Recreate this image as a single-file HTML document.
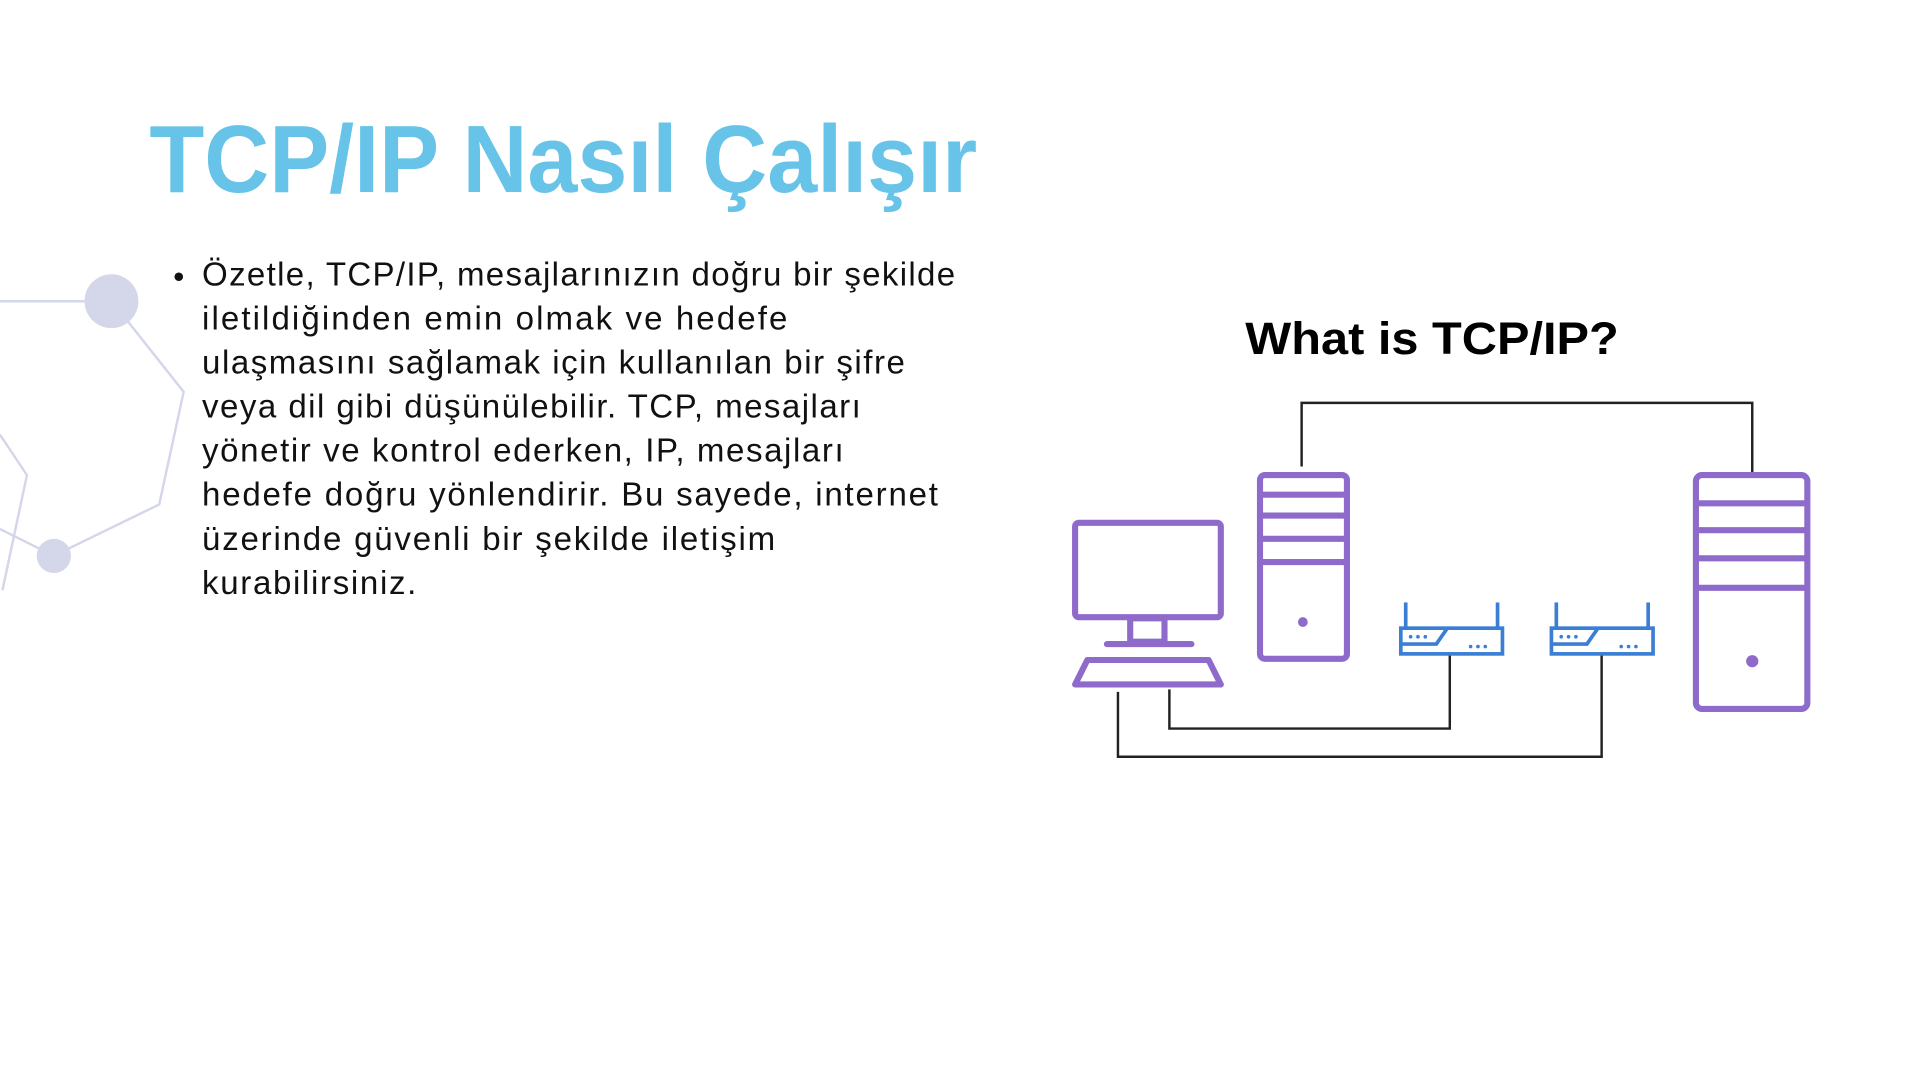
<!DOCTYPE html>
<html><head><meta charset="utf-8"><style>
html,body{margin:0;padding:0;background:#fff;width:1920px;height:1080px;overflow:hidden}
svg{display:block}
</style></head><body>
<svg width="1920" height="1080" viewBox="0 0 1568 882" xmlns="http://www.w3.org/2000/svg">
<g stroke="#d4d6ea" stroke-width="2" fill="none">
<polyline points="0,246 70,246"/>
<polyline points="104,262 150,320 130,412 56,448"/>
<polyline points="0,355 22,388 2,482"/>
<polyline points="0,432 32,448"/>
</g>
<circle cx="91" cy="246" r="22" fill="#d4d6ea"/>
<circle cx="44" cy="454" r="14" fill="#d4d6ea"/>
<text x="122" y="157" font-family="Liberation Sans, sans-serif" font-weight="bold" font-size="78" fill="#67c3e8" textLength="676" lengthAdjust="spacingAndGlyphs">TCP/IP Nasıl Çalışır</text>
<circle cx="146" cy="226" r="3.5" fill="#111"/>
<g font-family="Liberation Sans, sans-serif" font-size="27" fill="#111" lengthAdjust="spacingAndGlyphs">
<text x="165" y="233" textLength="615">Özetle, TCP/IP, mesajlarınızın doğru bir şekilde</text>
<text x="165" y="269" textLength="478">iletildiğinden emin olmak ve hedefe</text>
<text x="165" y="305" textLength="574">ulaşmasını sağlamak için kullanılan bir şifre</text>
<text x="165" y="341" textLength="538">veya dil gibi düşünülebilir. TCP, mesajları</text>
<text x="165" y="377" textLength="524">yönetir ve kontrol ederken, IP, mesajları</text>
<text x="165" y="413" textLength="601">hedefe doğru yönlendirir. Bu sayede, internet</text>
<text x="165" y="449" textLength="468">üzerinde güvenli bir şekilde iletişim</text>
<text x="165" y="485" textLength="175">kurabilirsiniz.</text>
</g>
<text x="1017" y="289" font-family="Liberation Sans, sans-serif" font-weight="bold" font-size="37" fill="#000" textLength="305" lengthAdjust="spacingAndGlyphs">What is TCP/IP?</text>
<g stroke="#222" stroke-width="2" fill="none">
<polyline points="1063,381 1063,329 1431,329 1431,387"/>
<polyline points="955,563 955,595 1184,595 1184,535"/>
<polyline points="913,565 913,618 1308,618 1308,535"/>
</g>
<g stroke="#8e6bcb" stroke-width="5" fill="none" stroke-linejoin="round">
<rect x="878" y="427" width="119" height="77" rx="3"/>
<rect x="923" y="505" width="28" height="19"/>
<line x1="904" y1="526" x2="973" y2="526" stroke-linecap="round"/>
<polygon points="888,539 987,539 997,559 878,559"/>
<rect x="1029" y="388" width="71" height="150" rx="4"/>
<line x1="1029" y1="404" x2="1100" y2="404"/>
<line x1="1029" y1="421" x2="1100" y2="421"/>
<line x1="1029" y1="440" x2="1100" y2="440"/>
<line x1="1029" y1="459" x2="1100" y2="459"/>
<rect x="1385" y="388" width="91" height="191" rx="5"/>
<line x1="1385" y1="411" x2="1476" y2="411"/>
<line x1="1385" y1="433" x2="1476" y2="433"/>
<line x1="1385" y1="456" x2="1476" y2="456"/>
<line x1="1385" y1="480" x2="1476" y2="480"/>
</g>
<circle cx="1064" cy="508" r="4" fill="#8e6bcb"/>
<circle cx="1431" cy="540" r="5" fill="#8e6bcb"/>
<g stroke="#3b7fd4" stroke-width="3" fill="none">
<g>
<rect x="1144" y="513" width="83" height="21"/>
<line x1="1148" y1="492" x2="1148" y2="513"/>
<line x1="1223" y1="492" x2="1223" y2="513"/>
<polyline points="1144,526 1173,526 1182,513"/>
</g>
<g transform="translate(123,0)">
<rect x="1144" y="513" width="83" height="21"/>
<line x1="1148" y1="492" x2="1148" y2="513"/>
<line x1="1223" y1="492" x2="1223" y2="513"/>
<polyline points="1144,526 1173,526 1182,513"/>
</g>
</g>
<g fill="#3b7fd4">
<circle cx="1152" cy="520" r="1.5"/><circle cx="1158" cy="520" r="1.5"/><circle cx="1164" cy="520" r="1.5"/>
<circle cx="1201" cy="528" r="1.5"/><circle cx="1207" cy="528" r="1.5"/><circle cx="1213" cy="528" r="1.5"/>
<circle cx="1275" cy="520" r="1.5"/><circle cx="1281" cy="520" r="1.5"/><circle cx="1287" cy="520" r="1.5"/>
<circle cx="1324" cy="528" r="1.5"/><circle cx="1330" cy="528" r="1.5"/><circle cx="1336" cy="528" r="1.5"/>
</g>
</svg>
</body></html>
